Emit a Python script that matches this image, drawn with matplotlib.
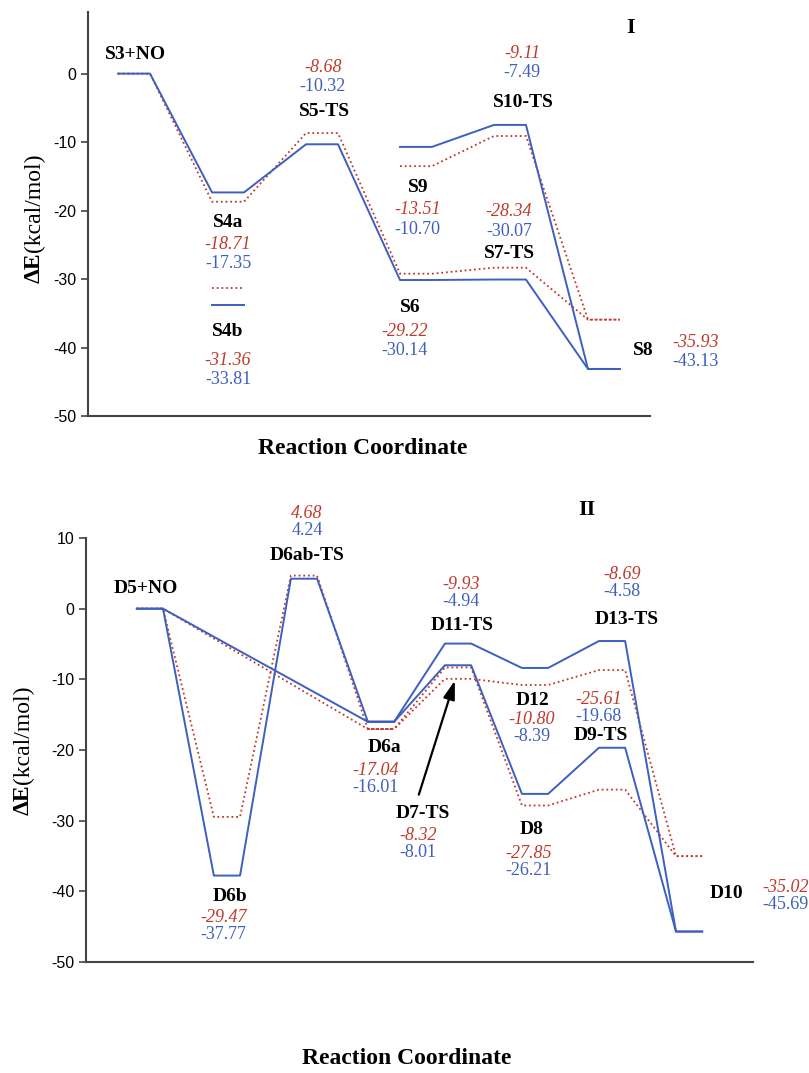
import matplotlib
matplotlib.use("Agg")
import matplotlib.pyplot as plt

plt.rcParams["axes.unicode_minus"] = False

# ---------------- data: panel I ----------------
s_names = ["S3+NO", "S4a", "S4b", "S5-TS", "S6", "S9", "S7-TS", "S10-TS", "S8"]
s_pos = {"S3+NO": 0, "S4a": 1, "S4b": 1, "S5-TS": 2, "S6": 3, "S9": 3,
         "S7-TS": 4, "S10-TS": 4, "S8": 5}
s_blue = {"S3+NO": 0.0, "S4a": -17.35, "S4b": -33.81, "S5-TS": -10.32, "S6": -30.14,
          "S9": -10.70, "S7-TS": -30.07, "S10-TS": -7.49, "S8": -43.13}
s_red = {"S3+NO": 0.0, "S4a": -18.71, "S4b": -31.36, "S5-TS": -8.68, "S6": -29.22,
         "S9": -13.51, "S7-TS": -28.34, "S10-TS": -9.11, "S8": -35.93}
s_paths = [["S3+NO", "S4a", "S5-TS", "S6", "S7-TS", "S8"],
           ["S9", "S10-TS", "S8"],
           ["S4b"]]

# ---------------- data: panel II ----------------
d_names = ["D5+NO", "D6b", "D6ab-TS", "D6a", "D11-TS", "D7-TS", "D12", "D8",
           "D13-TS", "D9-TS", "D10"]
d_pos = {"D5+NO": 0, "D6b": 1, "D6ab-TS": 2, "D6a": 3, "D11-TS": 4, "D7-TS": 4,
         "D12": 5, "D8": 5, "D13-TS": 6, "D9-TS": 6, "D10": 7}
d_blue = {"D5+NO": 0.0, "D6b": -37.77, "D6ab-TS": 4.24, "D6a": -16.01, "D11-TS": -4.94,
          "D7-TS": -8.01, "D12": -8.39, "D8": -26.21, "D13-TS": -4.58, "D9-TS": -19.68,
          "D10": -45.69}
d_red = {"D5+NO": 0.0, "D6b": -29.47, "D6ab-TS": 4.68, "D6a": -17.04, "D11-TS": -9.93,
         "D7-TS": -8.32, "D12": -10.80, "D8": -27.85, "D13-TS": -8.69, "D9-TS": -25.61,
         "D10": -35.02}
d_paths = [["D5+NO", "D6b", "D6ab-TS", "D6a"],
           ["D5+NO", "D6a"],
           ["D6a", "D11-TS", "D12", "D13-TS", "D10"],
           ["D6a", "D7-TS", "D8", "D9-TS", "D10"]]

# label layout (data coords): name position, value block position
s_layout = {"S3+NO": ((0.19, 2.8), None), "S4a": ((1.17, -21.8), (1.17, -24.9)),
            "S4b": ((1.17, -37.6), (1.17, -41.9)), "S5-TS": ((2.20, -5.6), (2.18, 0.9)),
            "S6": ((3.11, -34.1), (3.05, -37.7)), "S9": ((3.19, -16.6), (3.19, -19.9)),
            "S7-TS": ((4.16, -26.2), (4.16, -20.2)), "S10-TS": ((4.31, -4.2), (4.30, 3.0)),
            "S8": ((5.59, -40.5), (6.14, -39.3))}
d_layout = {"D5+NO": ((0.12, 2.8), None), "D6b": ((1.21, -40.7), (1.12, -43.7)),
            "D6ab-TS": ((2.21, 7.5), (2.21, 13.4)), "D6a": ((3.22, -19.7), (3.10, -22.9)),
            "D7-TS": ((3.71, -29.0), (3.65, -32.1)), "D11-TS": ((4.22, -2.4), (4.21, 3.4)),
            "D12": ((5.14, -13.0), (5.13, -15.7)), "D8": ((5.13, -31.3), (5.08, -34.7)),
            "D13-TS": ((6.36, -1.6), (6.30, 4.8)), "D9-TS": ((6.03, -18.0), (5.99, -12.9)),
            "D10": ((7.66, -40.3), (8.42, -39.5))}

BLUE = "#3d5fbf"
RED = "#c0392b"
W = 0.34
serif = "Liberation Serif"


def path_xy(path, pos, vals):
    xs, ys = [], []
    for n in path:
        xs += [pos[n], pos[n] + W]
        ys += [vals[n], vals[n]]
    return xs, ys


def draw_panel(ax, paths, pos, blue, red, layout, dy, ylim, xlim, ticks):
    for p in paths:
        xs, ys = path_xy(p, pos, red)
        ax.plot(xs, ys, color=RED, ls=(0, (1, 1.6)), lw=1.3, zorder=2)
        xs, ys = path_xy(p, pos, blue)
        ax.plot(xs, ys, color=BLUE, lw=1.4, zorder=3)
    for n, (lab, vpos) in layout.items():
        ax.text(lab[0], lab[1], n, ha="center", va="center", fontsize=14,
                fontweight="bold", family=serif, clip_on=False)
        if vpos is None:
            continue
        ax.text(vpos[0], vpos[1], f"{red[n]:.2f}", ha="center", va="center",
                fontsize=13, style="italic", color=RED, family=serif, clip_on=False)
        ax.text(vpos[0], vpos[1] - dy, f"{blue[n]:.2f}", ha="center", va="center",
                fontsize=13, color=BLUE, family=serif, clip_on=False)
    ax.set_xlim(*xlim)
    ax.set_ylim(*ylim)
    ax.set_yticks(ticks)
    ax.set_xticks([])
    for s in ["top", "right"]:
        ax.spines[s].set_visible(False)
    for s in ["left", "bottom"]:
        ax.spines[s].set_color("#444444")
        ax.spines[s].set_linewidth(1.5)
    ax.tick_params(axis="y", direction="out", length=5, width=1.2, color="#444444",
                   labelsize=11.5)
    for t in ax.get_yticklabels():
        t.set_family("Liberation Sans")


fig = plt.figure(figsize=(8.09, 10.73), dpi=100)

ax1 = fig.add_axes([88 / 809, 1 - 416 / 1073, (650 - 88) / 809, (416 - 12) / 1073])
draw_panel(ax1, s_paths, s_pos, s_blue, s_red, s_layout, 2.8, (-50, 9), (-0.32, 5.66),
           [-50, -40, -30, -20, -10, 0])
ax1.text(5.45, 6.6, "I", ha="center", va="center", fontsize=16, fontweight="bold",
         family=serif)

ax2 = fig.add_axes([86 / 809, 1 - 962 / 1073, (753 - 86) / 809, (962 - 538) / 1073])
draw_panel(ax2, d_paths, d_pos, d_blue, d_red, d_layout, 2.4, (-50, 10), (-0.66, 8.0),
           [-50, -40, -30, -20, -10, 0, 10])
ax2.text(5.84, 13.9, "II", ha="center", va="center", fontsize=16, fontweight="bold",
         family=serif, clip_on=False)
ax2.annotate("", xy=(4.14, -9.8), xytext=(3.65, -26.7),
             arrowprops=dict(arrowstyle="-|>,head_length=0.7,head_width=0.22",
                             color="black", lw=1.6, mutation_scale=16), zorder=5)

# axis titles
for yc_bottom, xc in [(283, 34), (815, 23)]:
    t1 = fig.text(xc / 809, 1 - yc_bottom / 1073, "\u0394E", rotation=90, ha="center",
                  va="bottom", fontsize=17, fontweight="bold", family=serif)
    plt.annotate("(kcal/mol)", xy=(0.5, 1.0), xycoords=t1, ha="center", va="bottom",
                 rotation=90, fontsize=17, family=serif)

fig.text(363 / 809, 1 - 448 / 1073, "Reaction Coordinate", ha="center", va="center",
         fontsize=17, fontweight="bold", family=serif)
fig.text(407 / 809, 1 - 1058 / 1073, "Reaction Coordinate", ha="center", va="center",
         fontsize=17, fontweight="bold", family=serif)

fig.savefig("out.png", dpi=100)
